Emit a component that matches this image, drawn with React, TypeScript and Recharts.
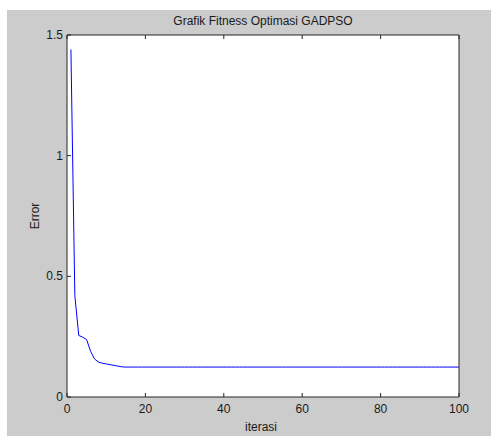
import React from "react";
import { LineChart, Line, XAxis, YAxis } from "recharts";

// error per iteration (iterations 1..100)
const ERROR_VALUES = [
  1.44, 0.42, 0.255, 0.248, 0.238, 0.19, 0.158, 0.145, 0.14, 0.137,
  0.134, 0.131, 0.128, 0.125, 0.124, 0.124, 0.124, 0.124, 0.124, 0.124,
  0.124, 0.124, 0.124, 0.124, 0.124, 0.124, 0.124, 0.124, 0.124, 0.124,
  0.124, 0.124, 0.124, 0.124, 0.124, 0.124, 0.124, 0.124, 0.124, 0.124,
  0.124, 0.124, 0.124, 0.124, 0.124, 0.124, 0.124, 0.124, 0.124, 0.124,
  0.124, 0.124, 0.124, 0.124, 0.124, 0.124, 0.124, 0.124, 0.124, 0.124,
  0.124, 0.124, 0.124, 0.124, 0.124, 0.124, 0.124, 0.124, 0.124, 0.124,
  0.124, 0.124, 0.124, 0.124, 0.124, 0.124, 0.124, 0.124, 0.124, 0.124,
  0.124, 0.124, 0.124, 0.124, 0.124, 0.124, 0.124, 0.124, 0.124, 0.124,
  0.124, 0.124, 0.124, 0.124, 0.124, 0.124, 0.124, 0.124, 0.124, 0.124,
];

const ITER_TICKS = [0, 20, 40, 60, 80, 100];
const ERROR_TICKS = [0, 0.5, 1, 1.5];

const TITLE = "Grafik Fitness Optimasi GADPSO";
const X_LABEL = "iterasi";
const Y_LABEL = "Error";

const data = ERROR_VALUES.map((error, i) => ({ iter: i + 1, error }));

const FONT = '"Liberation Sans", Arial, Helvetica, sans-serif';
const TEXT_COLOR = "#1a1a1a";
const AXIS_COLOR = "#262626";
const TICK_LEN = 4;

const W = 491;
const H = 436;
const PLOT = { left: 67, top: 35, right: 459, bottom: 397 };
const AXIS_SIZE = 20;

// MATLAB style ticks point into the plot box
// eslint-disable-next-line @typescript-eslint/no-explicit-any
function BottomTick({ x, payload }: any) {
  const y = PLOT.bottom;
  return (
    <g>
      <line x1={x} y1={y} x2={x} y2={y - TICK_LEN} stroke={AXIS_COLOR} />
      <text
        x={x}
        y={y + 16}
        textAnchor="middle"
        fontSize={12}
        fontFamily={FONT}
        fill={TEXT_COLOR}>
        {payload.value}
      </text>
    </g>
  );
}

// eslint-disable-next-line @typescript-eslint/no-explicit-any
function TopTick({ x }: any) {
  const y = PLOT.top;
  return <line x1={x} y1={y} x2={x} y2={y + TICK_LEN} stroke={AXIS_COLOR} />;
}

// eslint-disable-next-line @typescript-eslint/no-explicit-any
function LeftTick({ y, payload }: any) {
  const x = PLOT.left;
  return (
    <g>
      <line x1={x} y1={y} x2={x + TICK_LEN} y2={y} stroke={AXIS_COLOR} />
      <text
        x={x - 4}
        y={y + 4}
        textAnchor="end"
        fontSize={12}
        fontFamily={FONT}
        fill={TEXT_COLOR}>
        {payload.value}
      </text>
    </g>
  );
}

// eslint-disable-next-line @typescript-eslint/no-explicit-any
function RightTick({ y }: any) {
  const x = PLOT.right;
  return <line x1={x} y1={y} x2={x - TICK_LEN} y2={y} stroke={AXIS_COLOR} />;
}

export default function App() {
  const cx = (PLOT.left + PLOT.right) / 2;
  const cy = (PLOT.top + PLOT.bottom) / 2;

  return (
    <div
      style={{
        position: "absolute",
        left: 0,
        top: 0,
        width: W,
        height: H,
        background: "#ffffff",
      }}>
      {/* figure background */}
      <div
        style={{
          position: "absolute",
          left: 7,
          top: 10,
          width: W - 7,
          height: H - 10,
          background: "#cccccc",
        }}
      />
      {/* axes background */}
      <div
        style={{
          position: "absolute",
          left: PLOT.left,
          top: PLOT.top,
          width: PLOT.right - PLOT.left,
          height: PLOT.bottom - PLOT.top,
          background: "#ffffff",
        }}
      />
      <div style={{ position: "absolute", left: 0, top: 0 }}>
        <LineChart
          width={W}
          height={H}
          data={data}
          margin={{
            top: PLOT.top - AXIS_SIZE,
            right: W - PLOT.right - AXIS_SIZE,
            bottom: H - PLOT.bottom - AXIS_SIZE,
            left: PLOT.left - AXIS_SIZE,
          }}>
          <XAxis
            dataKey="iter"
            type="number"
            domain={[0, 100]}
            ticks={ITER_TICKS}
            height={AXIS_SIZE}
            tickLine={false}
            tick={BottomTick}
            axisLine={{ stroke: AXIS_COLOR }}
            interval={0}
          />
          <XAxis
            xAxisId="top"
            orientation="top"
            dataKey="iter"
            type="number"
            domain={[0, 100]}
            ticks={ITER_TICKS}
            height={AXIS_SIZE}
            tickLine={false}
            tick={TopTick}
            axisLine={{ stroke: AXIS_COLOR }}
            interval={0}
          />
          <YAxis
            type="number"
            domain={[0, 1.5]}
            ticks={ERROR_TICKS}
            width={AXIS_SIZE}
            tickLine={false}
            tick={LeftTick}
            axisLine={{ stroke: AXIS_COLOR }}
            interval={0}
          />
          <YAxis
            yAxisId="right"
            orientation="right"
            type="number"
            domain={[0, 1.5]}
            ticks={ERROR_TICKS}
            width={AXIS_SIZE}
            tickLine={false}
            tick={RightTick}
            axisLine={{ stroke: AXIS_COLOR }}
            interval={0}
          />
          <Line
            type="linear"
            dataKey="error"
            stroke="#0000ff"
            strokeWidth={1}
            dot={false}
            isAnimationActive={false}
          />
        </LineChart>
      </div>
      {/* title and axis labels */}
      <svg
        width={W}
        height={H}
        style={{ position: "absolute", left: 0, top: 0, pointerEvents: "none" }}>
        <g fontFamily={FONT} fontSize={12} fill={TEXT_COLOR}>
          <text x={cx} y={25} textAnchor="middle">
            {TITLE}
          </text>
          <text x={cx - 2} y={431} textAnchor="middle">
            {X_LABEL}
          </text>
          <text
            x={39}
            y={cy}
            textAnchor="middle"
            transform={`rotate(-90 39 ${cy})`}>
            {Y_LABEL}
          </text>
        </g>
      </svg>
    </div>
  );
}
